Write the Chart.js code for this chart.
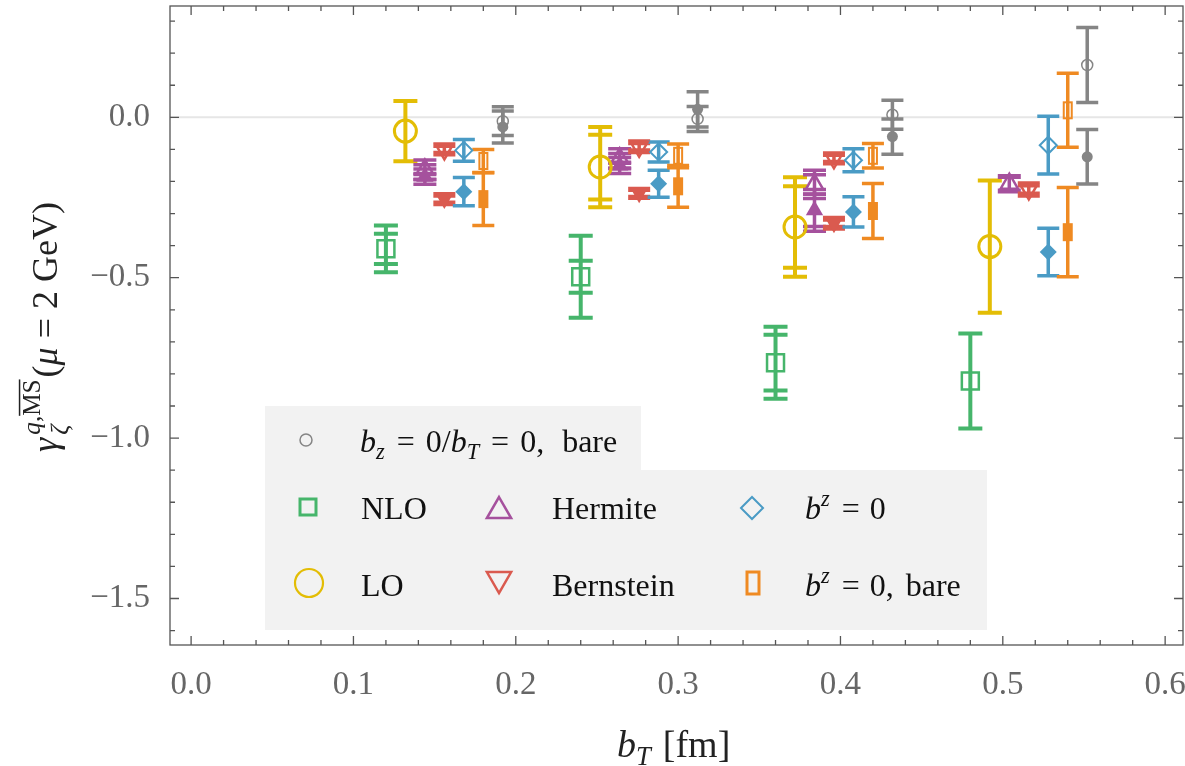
<!DOCTYPE html>
<html><head><meta charset="utf-8">
<script src="https://cdn.jsdelivr.net/npm/chart.js@4.4.1/dist/chart.umd.min.js"></script>
<style>html,body{margin:0;padding:0;background:#fff;}canvas{display:block;}</style>
</head><body>
<canvas id="c" width="1185" height="766"></canvas>
<script>
// ---------- DATA ----------
const bT = [0.12, 0.24, 0.36, 0.48];
const xTickValues = [0.0, 0.1, 0.2, 0.3, 0.4, 0.5, 0.6];
const xTickLabels = ['0.0', '0.1', '0.2', '0.3', '0.4', '0.5', '0.6'];
const yTickValues = [0.0, -0.5, -1.0, -1.5];
const yTickLabels = ['0.0', '\u22120.5', '\u22121.0', '\u22121.5'];

// NLO (open squares)
const nloVal  = [-0.410, -0.497, -0.765, -0.822];
const nloStat = [0.047, 0.050, 0.087, 0.148];
const nloTot  = [0.073, 0.128, 0.112, 0.148];
// LO (open circles)
const loVal  = [-0.043, -0.155, -0.342, -0.403];
const loStat = [0.094, 0.101, 0.127, 0.206];
const loTot  = [0.094, 0.125, 0.155, 0.206];
// Hermite
const hermOpenVal  = [-0.163, -0.128, -0.209, -0.207];
const hermOpenStat = [0.015, 0.015, 0.030, 0.020];
const hermOpenTot  = [0.030, 0.030, 0.044, 0.025];
const hermFillVal  = [-0.185, -0.150, -0.290, null];
const hermFillStat = [0.010, 0.010, 0.050, null];
const hermFillTot  = [0.024, 0.025, 0.065, null];
// Bernstein
const bernOpenVal  = [-0.100, -0.092, -0.128, -0.225];
const bernOpenStat = [0.010, 0.010, 0.010, 0.012];
const bernOpenTot  = [0.017, 0.018, 0.017, 0.020];
const bernFillVal  = [-0.255, -0.237, -0.330, null];
const bernFillStat = [0.010, 0.010, 0.010, null];
const bernFillTot  = [0.017, 0.015, 0.018, null];
// b^z = 0 (diamonds)
const bzOpenVal = [-0.103, -0.108, -0.134, -0.087];
const bzOpenTot = [0.034, 0.031, 0.036, 0.090];
const bzFillVal = [-0.232, -0.207, -0.295, -0.420];
const bzFillTot = [0.044, 0.042, 0.047, 0.074];
// b^z = 0, bare (tall rectangles)
const bzbOpenVal = [-0.136, -0.120, -0.120, 0.022];
const bzbOpenTot = [0.036, 0.037, 0.038, 0.115];
const bzbFillVal = [-0.255, -0.215, -0.292, -0.358];
const bzbFillTot = [0.082, 0.065, 0.086, 0.139];
// b_z = 0 / b_T = 0, bare (small gray circles)
const grayOpenVal = [-0.012, -0.005, 0.008, 0.163];
const grayOpenTot = [0.045, 0.039, 0.045, 0.117];
const grayFillVal = [-0.030, 0.025, -0.060, -0.123];
const grayFillTot = [0.050, 0.055, 0.055, 0.085];

// ---------- STYLE ----------
const DX = 0.012; // horizontal shift between methods inside a group
const C = {nlo:'#46b56b', lo:'#e3bd05', herm:'#a5519d', bern:'#da5a4f', bz:'#4a9bc5', bzb:'#ef8a22', gray:'#858585'};
const FONT = '"Liberation Serif", "DejaVu Serif", serif';

function makeRectCanvas(color, filled, w, h, lw) {
  const cv = document.createElement('canvas');
  cv.width = w + lw + 2; cv.height = h + lw + 2;
  const c = cv.getContext('2d');
  const x0 = (cv.width - w) / 2, y0 = (cv.height - h) / 2;
  if (filled) { c.fillStyle = color; c.fillRect(x0 - lw/2, y0 - lw/2, w + lw, h + lw); }
  else { c.strokeStyle = color; c.lineWidth = lw; c.strokeRect(x0, y0, w, h); }
  return cv;
}

const series = [
  {k:0, color:C.nlo,  shape:'rect',     r:12, bw:2.5, ebw:4,   cap:24, variants:[{v:nloVal, s:nloStat, t:nloTot, fill:false}]},
  {k:1, color:C.lo,   shape:'circle',   r:11, bw:3,   ebw:4,   cap:24, variants:[{v:loVal, s:loStat, t:loTot, fill:false}]},
  {k:2, color:C.herm, shape:'triangle', r:10, bw:2.5, ebw:3.5, cap:23, variants:[{v:hermOpenVal, s:hermOpenStat, t:hermOpenTot, fill:false},{v:hermFillVal, s:hermFillStat, t:hermFillTot, fill:true}]},
  {k:3, color:C.bern, shape:'triangle', rot:180, r:10, bw:2.5, ebw:3.5, cap:22, variants:[{v:bernOpenVal, s:bernOpenStat, t:bernOpenTot, fill:false},{v:bernFillVal, s:bernFillStat, t:bernFillTot, fill:true}]},
  {k:4, color:C.bz,   shape:'rectRot',  r:8.5, bw:2, ebw:3.5, cap:22, variants:[{v:bzOpenVal, t:bzOpenTot, fill:false},{v:bzFillVal, t:bzFillTot, fill:true}]},
  {k:5, color:C.bzb,  shape:'tallrect', r:10, bw:2,  ebw:3.5, cap:22, variants:[{v:bzbOpenVal, t:bzbOpenTot, fill:false},{v:bzbFillVal, t:bzbFillTot, fill:true}]},
  {k:6, color:C.gray, shape:'circle',   r:5.5, bw:1.5, ebw:3.5, cap:22, variants:[{v:grayOpenVal, t:grayOpenTot, fill:false},{v:grayFillVal, t:grayFillTot, fill:true}]}
];

const datasets = [];
series.forEach(se => {
  se.variants.forEach(va => {
    const pts = [], errs = [];
    bT.forEach((b, i) => {
      if (va.v[i] === null || va.v[i] === undefined) return;
      pts.push({x: b + se.k * DX, y: va.v[i]});
      errs.push({v: va.v[i], tot: va.t[i], stat: va.s ? va.s[i] : null});
    });
    let ps = se.shape;
    if (se.shape === 'tallrect') ps = makeRectCanvas(se.color, va.fill, 8, 16, 2);
    datasets.push({
      data: pts, errs: errs,
      pointStyle: ps,
      rotation: se.rot || 0,
      radius: se.r, pointRadius: se.r, pointHoverRadius: se.r,
      borderColor: se.color,
      backgroundColor: va.fill ? se.color : 'rgba(0,0,0,0)',
      pointBorderWidth: va.fill ? 0 : se.bw,
      borderWidth: va.fill ? 0 : se.bw,
      showLine: false,
      ebWidth: se.ebw, capW: se.cap
    });
  });
});

// ---------- PLUGINS ----------
const errorBars = {
  id: 'errorBars',
  beforeDatasetsDraw(chart) {
    const ctx = chart.ctx, ys = chart.scales.y;
    chart.data.datasets.forEach((ds, di) => {
      const meta = chart.getDatasetMeta(di);
      ds.errs.forEach((e, i) => {
        const px = meta.data[i].x;
        const hw = ds.capW / 2;
        ctx.save();
        ctx.strokeStyle = ds.borderColor; ctx.lineWidth = ds.ebWidth; ctx.lineCap = 'butt';
        const yT = ys.getPixelForValue(e.v + e.tot), yB = ys.getPixelForValue(e.v - e.tot);
        ctx.beginPath();
        ctx.moveTo(px, yT); ctx.lineTo(px, yB);
        ctx.moveTo(px - hw, yT); ctx.lineTo(px + hw, yT);
        ctx.moveTo(px - hw, yB); ctx.lineTo(px + hw, yB);
        if (e.stat !== null && e.stat < e.tot - 1e-6) {
          const y1 = ys.getPixelForValue(e.v + e.stat), y2 = ys.getPixelForValue(e.v - e.stat);
          ctx.moveTo(px - hw, y1); ctx.lineTo(px + hw, y1);
          ctx.moveTo(px - hw, y2); ctx.lineTo(px + hw, y2);
        }
        ctx.stroke();
        ctx.restore();
      });
    });
  }
};

const frame = {
  id: 'frame',
  beforeDatasetsDraw(chart) {
    const ctx = chart.ctx, a = chart.chartArea, ys = chart.scales.y;
    ctx.save();
    const y0 = ys.getPixelForValue(0);
    ctx.strokeStyle = '#e6e6e6'; ctx.lineWidth = 2;
    ctx.beginPath(); ctx.moveTo(a.left, y0); ctx.lineTo(a.right, y0); ctx.stroke();
    ctx.restore();
  },
  afterDraw(chart) {
    const ctx = chart.ctx, a = chart.chartArea, xs = chart.scales.x, ys = chart.scales.y;
    ctx.save();
    ctx.strokeStyle = '#555'; ctx.lineWidth = 1.3;
    ctx.strokeRect(a.left, a.top, a.right - a.left, a.bottom - a.top);
    ctx.beginPath();
    for (let i = 0; i <= 31; i++) {
      const v = Math.round(i * 2) / 100;
      if (v > xs.max) break;
      const px = xs.getPixelForValue(v);
      const L = (i % 5 === 0) ? 9 : 5;
      ctx.moveTo(px, a.bottom); ctx.lineTo(px, a.bottom - L);
      ctx.moveTo(px, a.top); ctx.lineTo(px, a.top + L);
    }
    for (let i = -16; i <= 3; i++) {
      const v = i / 10;
      if (v < ys.min || v > ys.max) continue;
      const py = ys.getPixelForValue(v);
      const L = (i % 5 === 0) ? 9 : 5;
      ctx.moveTo(a.left, py); ctx.lineTo(a.left + L, py);
      ctx.moveTo(a.right, py); ctx.lineTo(a.right - L, py);
    }
    ctx.stroke();
    ctx.restore();
  }
};

function drawRich(ctx, x, y, parts, S) {
  let cx = x;
  for (const p of parts) {
    const sz = (p.sub || p.sup) ? S * 0.7 : S;
    ctx.font = (p.i ? 'italic ' : '') + sz + 'px ' + FONT;
    const dy = p.sub ? S * 0.22 : (p.sup ? -S * 0.4 : 0);
    cx += (p.pre || 0);
    ctx.fillText(p.t, cx, y + dy);
    cx += ctx.measureText(p.t).width + (p.gap || 0);
  }
  return cx - x;
}

function drawMarker(ctx, shape, x, y, r, color, lw, extra) {
  ctx.save();
  ctx.strokeStyle = color; ctx.lineWidth = lw;
  ctx.beginPath();
  if (shape === 'circle') ctx.arc(x, y, r, 0, Math.PI * 2);
  else if (shape === 'square') ctx.rect(x - extra.w / 2, y - extra.h / 2, extra.w, extra.h);
  else if (shape === 'tri') {
    const s = extra.down ? -1 : 1;
    ctx.moveTo(x, y - s * r);
    ctx.lineTo(x + r * 0.866, y + s * r * 0.5);
    ctx.lineTo(x - r * 0.866, y + s * r * 0.5);
    ctx.closePath();
  } else if (shape === 'diamond') {
    ctx.moveTo(x - r, y); ctx.lineTo(x, y - r); ctx.lineTo(x + r, y); ctx.lineTo(x, y + r); ctx.closePath();
  }
  ctx.stroke();
  ctx.restore();
}

const legendAndTitles = {
  id: 'legendAndTitles',
  afterDraw(chart) {
    const ctx = chart.ctx;
    ctx.save();
    ctx.fillStyle = '#f2f2f2';
    ctx.fillRect(265, 406, 376, 65);
    ctx.fillRect(265, 470, 722, 160);
    drawMarker(ctx, 'circle', 306, 440, 6, C.gray, 1.5);
    drawMarker(ctx, 'square', 308, 507, 0, C.nlo, 3, {w: 16, h: 16});
    drawMarker(ctx, 'tri', 499, 511, 14, C.herm, 2.5, {});
    drawMarker(ctx, 'diamond', 752, 508, 11, C.bz, 2, {});
    drawMarker(ctx, 'circle', 309, 583, 14, C.lo, 2.2);
    drawMarker(ctx, 'tri', 499, 579, 14, C.bern, 2.5, {down: true});
    drawMarker(ctx, 'square', 753, 583, 0, C.bzb, 3, {w: 12, h: 22});
    ctx.fillStyle = '#111';
    ctx.textBaseline = 'alphabetic';
    const S = 32;
    drawRich(ctx, 360, 452, [{t:'b', i:true}, {t:'z', i:true, sub:true}, {t:'=', pre:12, gap:11}, {t:'0/'}, {t:'b', i:true}, {t:'T', i:true, sub:true}, {t:'=', pre:12, gap:11}, {t:'0,'}, {t:'bare', pre:18}], S);
    drawRich(ctx, 361, 519, [{t:'NLO'}], S);
    drawRich(ctx, 552, 519, [{t:'Hermite'}], S);
    drawRich(ctx, 805, 519, [{t:'b', i:true}, {t:'z', i:true, sup:true, gap:2}, {t:'=', pre:10, gap:10}, {t:'0'}], S);
    drawRich(ctx, 361, 596, [{t:'LO'}], S);
    drawRich(ctx, 552, 596, [{t:'Bernstein'}], S);
    drawRich(ctx, 805, 596, [{t:'b', i:true}, {t:'z', i:true, sup:true, gap:2}, {t:'=', pre:10, gap:10}, {t:'0,'}, {t:'bare', pre:12}], S);

    ctx.fillStyle = '#222';
    const TS = 38;
    drawRich(ctx, 617, 757, [{t:'b', i:true}, {t:'T', i:true, sub:true, gap:12}, {t:'[fm]'}], TS);

    // y title (rotated)
    ctx.translate(57, 327);
    ctx.rotate(-Math.PI / 2);
    const YS = 36;
    ctx.font = 'italic ' + YS + 'px ' + FONT;
    const wg = ctx.measureText('\u03b3').width;
    ctx.font = 'italic ' + (YS*0.7) + 'px ' + FONT;
    const wq = ctx.measureText('q').width;
    ctx.font = (YS*0.7) + 'px ' + FONT;
    const wc = ctx.measureText(',').width, msW = ctx.measureText('MS').width;
    const wsup = wq + wc + msW;
    const restParts = [{t:'('}, {t:'\u03bc', i:true}, {t:'=', pre:9, gap:9}, {t:'2 GeV)'}];
    let wr = 0;
    restParts.forEach(p => { ctx.font = (p.i ? 'italic ' : '') + YS + 'px ' + FONT; wr += ctx.measureText(p.t).width + (p.pre||0) + (p.gap||0); });
    const total = wg + 3 + wsup + 2 + wr;
    const x0 = -total / 2;
    ctx.font = 'italic ' + YS + 'px ' + FONT;
    ctx.fillText('\u03b3', x0, 0);
    const sx = x0 + wg + 3;
    ctx.font = 'italic ' + (YS * 0.7) + 'px ' + FONT;
    ctx.fillText('\u03b6', sx, YS * 0.3);
    const supY = -YS * 0.48;
    ctx.fillText('q', sx, supY);
    let qx = sx + wq;
    ctx.font = (YS * 0.7) + 'px ' + FONT;
    ctx.fillText(',', qx, supY);
    qx += wc;
    ctx.fillText('MS', qx, supY);
    ctx.strokeStyle = '#222'; ctx.lineWidth = 1.5;
    ctx.beginPath(); ctx.moveTo(qx, supY - YS * 0.56); ctx.lineTo(qx + msW, supY - YS * 0.56); ctx.stroke();
    drawRich(ctx, sx + wsup + 2, 0, restParts, YS);
    ctx.restore();
  }
};

// ---------- CHART ----------
const tickFont = {family: FONT, size: 33};
new Chart(document.getElementById('c').getContext('2d'), {
  type: 'scatter',
  data: {datasets},
  options: {
    responsive: false, animation: false, devicePixelRatio: 1,
    layout: {autoPadding: false, padding: {top: 6, right: 2, left: 0, bottom: 0}},
    plugins: {legend: {display: false}, tooltip: {enabled: false}},
    elements: {point: {hitRadius: 0}},
    scales: {
      x: {
        type: 'linear', min: -0.013, max: 0.611,
        afterFit(s) { s.height = 121; s.paddingLeft = 0; s.paddingRight = 0; },
        grid: {display: false, drawTicks: false}, border: {display: false},
        ticks: {stepSize: 0.1, includeBounds: false, padding: 21, color: '#666', font: tickFont, maxRotation: 0,
          callback: (v) => { const i = xTickValues.findIndex(t => Math.abs(t - v) < 1e-6); return i >= 0 ? xTickLabels[i] : ''; }}
      },
      y: {
        type: 'linear', min: -1.645, max: 0.347,
        afterFit(s) { s.width = 170; s.paddingTop = 0; s.paddingBottom = 0; },
        grid: {display: false, drawTicks: false}, border: {display: false},
        ticks: {stepSize: 0.5, includeBounds: false, padding: 20, color: '#666', font: tickFont,
          callback: (v) => { const i = yTickValues.findIndex(t => Math.abs(t - v) < 1e-6); return i >= 0 ? yTickLabels[i] : ''; }}
      }
    }
  },
  plugins: [frame, errorBars, legendAndTitles]
});
</script>
</body></html>
